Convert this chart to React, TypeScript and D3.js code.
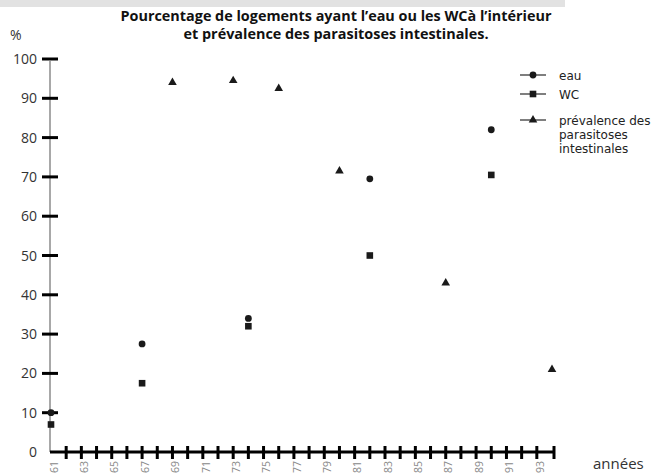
import React from "react";
import * as d3 from "d3";

const titleLines = [
  "Pourcentage de logements ayant l’eau ou les WCà l’intérieur",
  "et prévalence des parasitoses intestinales.",
];
const yTicks = [0, 10, 20, 30, 40, 50, 60, 70, 80, 90, 100];
const tickYears = d3.range(1962, 1994);
const labelYears = [1961, 1963, 1965, 1967, 1969, 1971, 1973, 1975, 1977, 1979, 1981, 1983, 1985, 1987, 1989, 1991, 1993];

const eauYears = [1961, 1967, 1974, 1982, 1990];
const eauValues = [10, 27.5, 34, 69.5, 82];
const wcYears = [1961, 1967, 1974, 1982, 1990];
const wcValues = [7, 17.5, 32, 50, 70.5];
const prevYears = [1969, 1973, 1976, 1980, 1987, 1994];
const prevValues = [94, 94.5, 92.5, 71.5, 43, 21];

const FONT = "'Open Sans', sans-serif";
const LFONT = "'DejaVu Sans', sans-serif";
const INK = "#1a1a1a";

export default function App() {
  const x = d3.scaleLinear().domain([1961, 1994]).range([51, 552]);
  const y = d3.scaleLinear().domain([0, 100]).range([452, 59]);
  const tri = d3.symbol().type(d3.symbolTriangle).size(32)() as string;

  const Circle = ({ cx, cy }: { cx: number; cy: number }) => <circle cx={cx} cy={cy} r={3.4} fill={INK} />;
  const Square = ({ cx, cy }: { cx: number; cy: number }) => (
    <rect x={cx - 3.3} y={cy - 3.3} width={6.6} height={6.6} fill={INK} />
  );
  const Tri = ({ cx, cy }: { cx: number; cy: number }) => (
    <path d={tri} transform={`translate(${cx},${cy})`} fill={INK} />
  );

  const legend = [
    { y: 75, lines: ["eau"], M: Circle },
    { y: 94, lines: ["WC"], M: Square },
    { y: 120, lines: ["prévalence des", "parasitoses", "intestinales"], M: Tri },
  ];

  return (
    <svg width={672} height={475} style={{ position: "absolute", left: 0, top: 0, background: "#fff" }}>
      <rect x={0} y={0} width={565} height={7} fill="#e2e2e2" />
      {titleLines.map((t, i) => (
        <text key={i} x={336} y={21 + i * 18} textAnchor="middle" fontFamily={FONT} fontWeight={700} fontSize={14.4} fill="#111">
          {t}
        </text>
      ))}
      <text x={10} y={40} fontFamily={FONT} fontSize={14} fill="#333">%</text>

      {/* y axis */}
      <line x1={50} x2={50} y1={y(100) + 2} y2={y(0)} stroke="#a8a8a8" strokeWidth={2} />
      {yTicks.map((v) => (
        <g key={v}>
          {v > 0 && <line x1={42} x2={58} y1={y(v)} y2={y(v)} stroke="#000" strokeWidth={3} />}
          <text x={37} y={y(v)} dy="0.36em" textAnchor="end" fontFamily={FONT} fontSize={14} fill="#333">
            {v}
          </text>
        </g>
      ))}

      {/* x axis */}
      <line x1={50} x2={554} y1={y(0)} y2={y(0)} stroke="#000" strokeWidth={3} />
      {tickYears.map((yr) => (
        <line key={yr} x1={x(yr)} x2={x(yr)} y1={446} y2={459} stroke="#000" strokeWidth={3} />
      ))}
      <line x1={554} x2={554} y1={446} y2={459} stroke="#000" strokeWidth={3} />
      {labelYears.map((yr) => (
        <text
          key={yr}
          transform={`translate(${x(yr) + 3},461) rotate(-90)`}
          dy="0.35em"
          textAnchor="end"
          fontFamily={FONT}
          fontSize={10.5}
          fill="#888"
        >
          {String(yr).slice(2)}
        </text>
      ))}
      <text x={593} y={469} fontFamily={FONT} fontSize={15} fill="#333">années</text>

      {/* data */}
      {prevYears.map((yr, i) => <Tri key={"p" + i} cx={x(yr)} cy={y(prevValues[i])} />)}
      {eauYears.map((yr, i) => <Circle key={"e" + i} cx={x(yr)} cy={y(eauValues[i])} />)}
      {wcYears.map((yr, i) => <Square key={"w" + i} cx={x(yr)} cy={y(wcValues[i])} />)}

      {/* legend */}
      {legend.map((l, i) => (
        <g key={i}>
          <line x1={520} x2={546} y1={l.y} y2={l.y} stroke="#555" strokeWidth={1.5} />
          <l.M cx={533} cy={l.y} />
          {l.lines.map((t, j) => (
            <text key={j} x={559} y={l.y + 5 + j * 14} fontFamily={LFONT} fontSize={12} fill="#222">
              {t}
            </text>
          ))}
        </g>
      ))}
    </svg>
  );
}
